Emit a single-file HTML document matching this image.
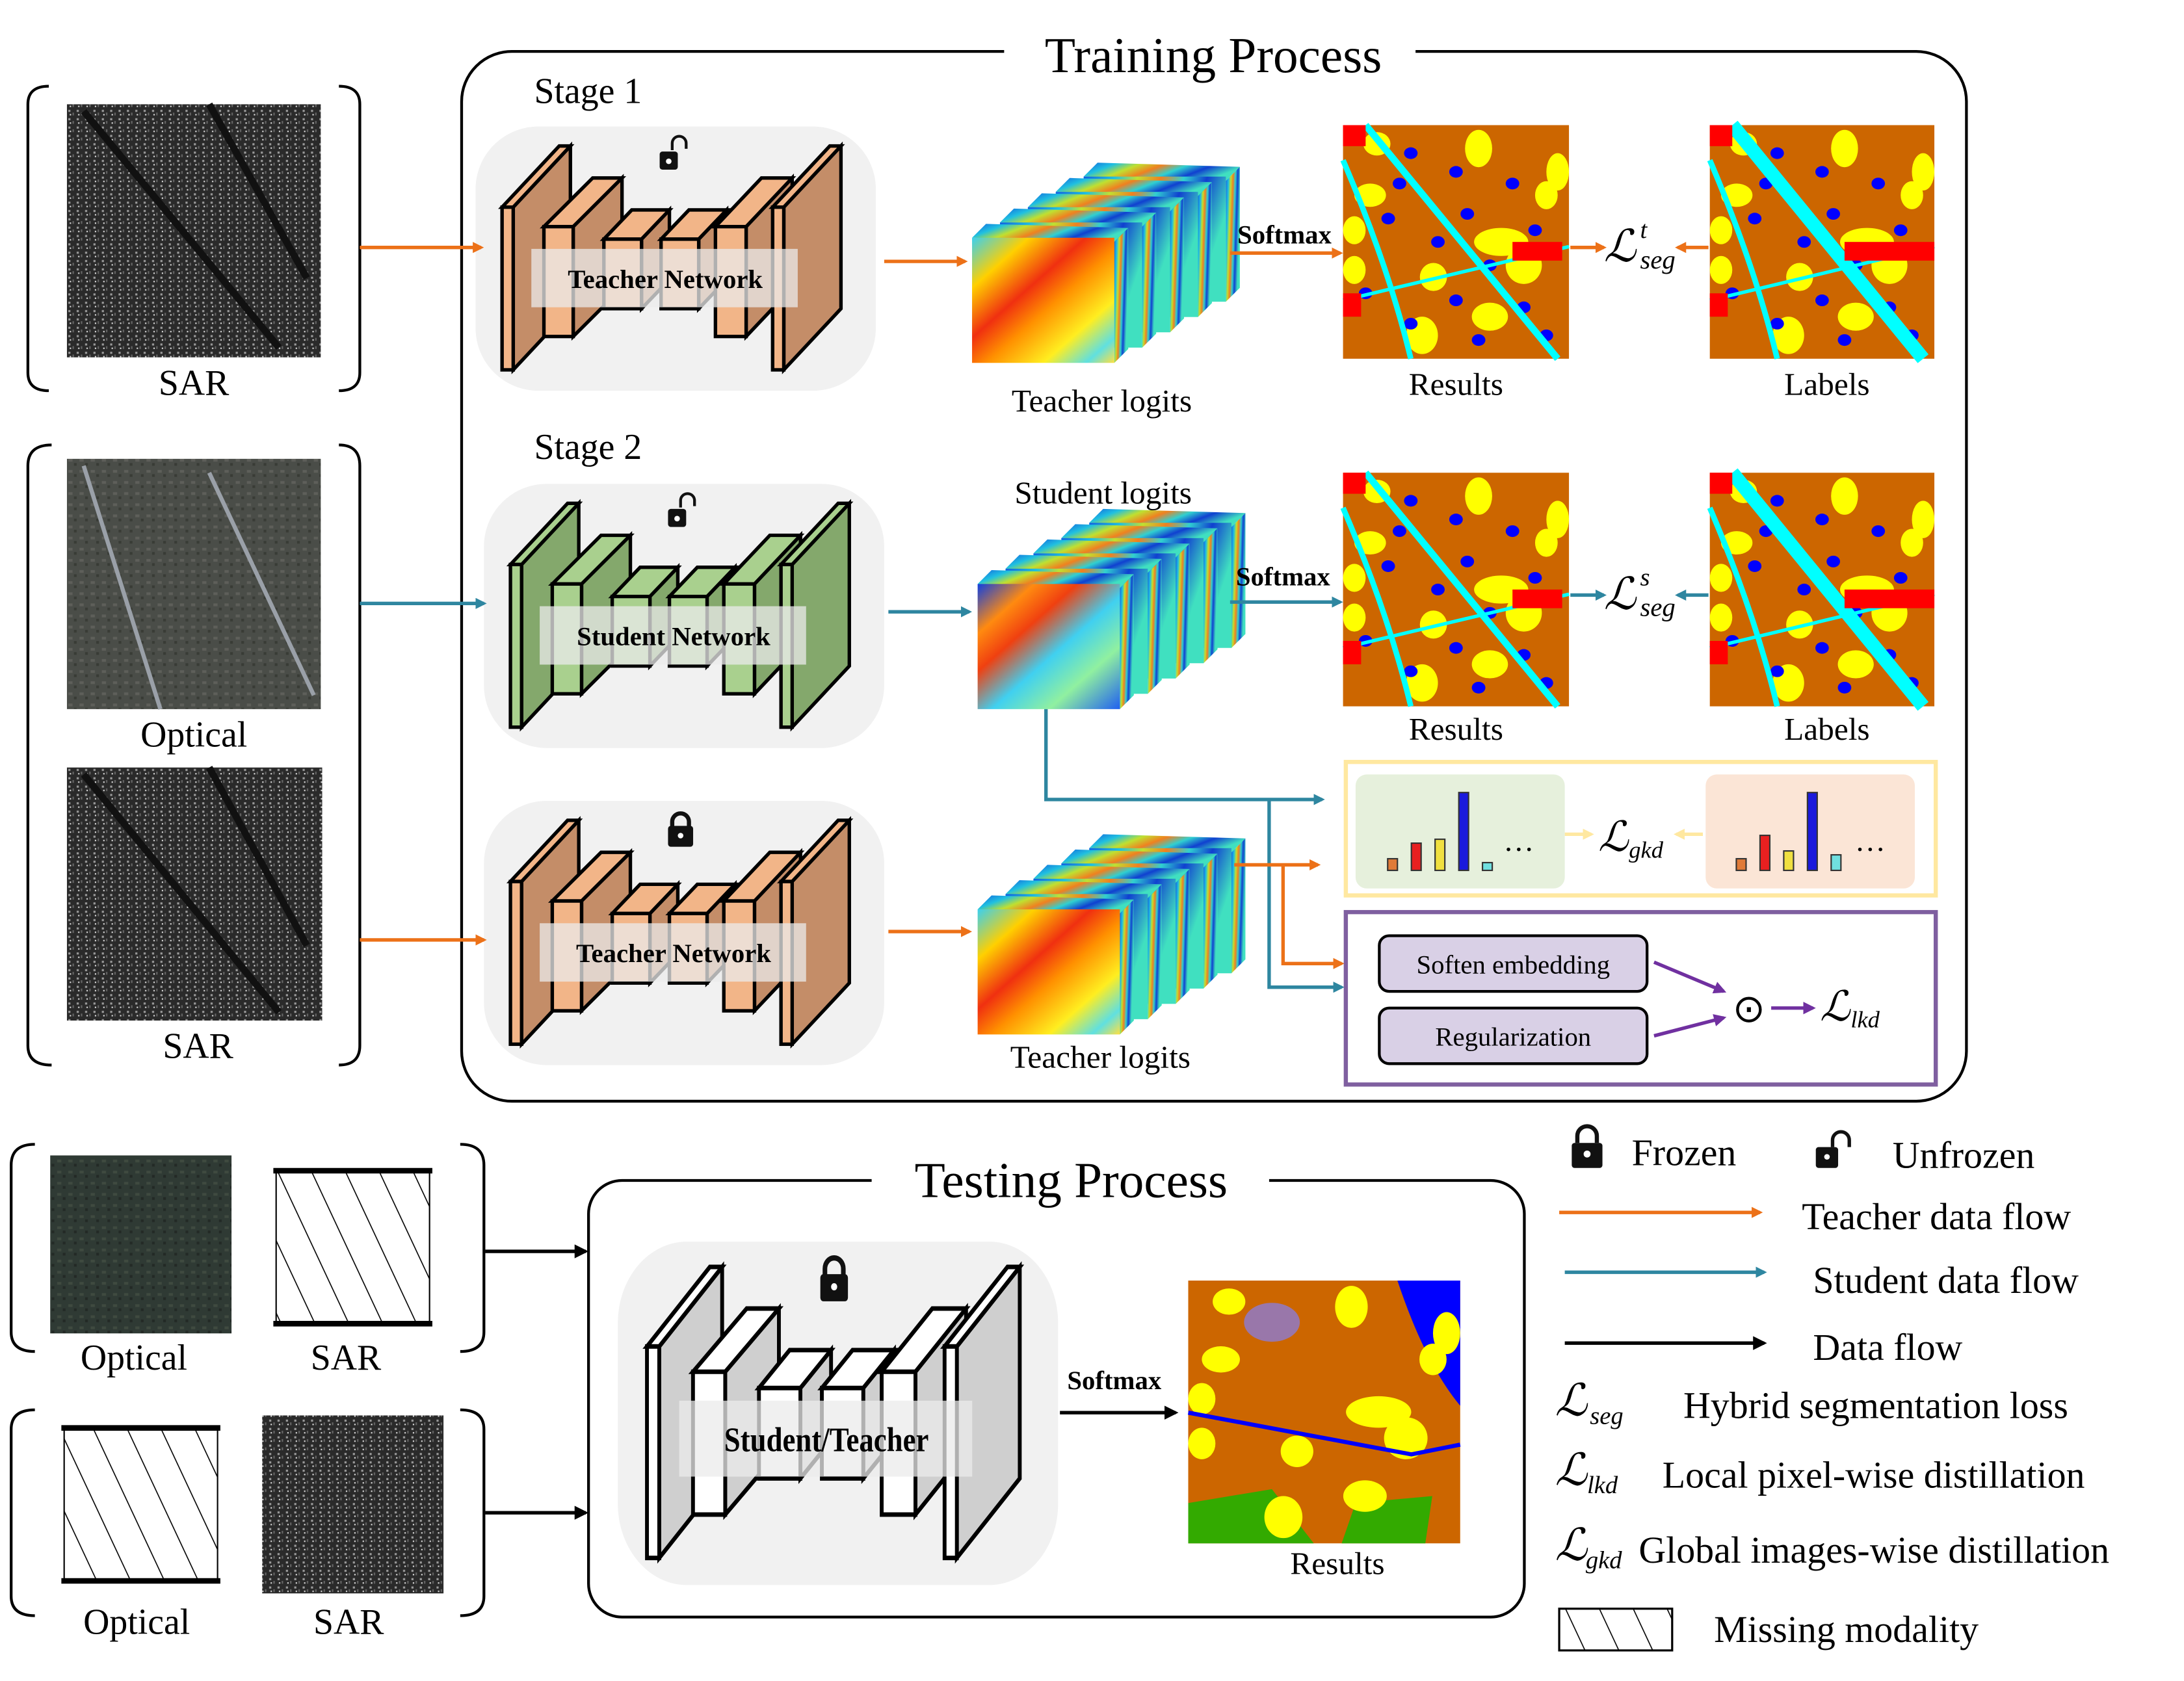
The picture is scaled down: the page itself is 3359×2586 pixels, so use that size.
<!DOCTYPE html>
<html><head><meta charset="utf-8"><style>
html,body{margin:0;padding:0;background:#fff;}
svg{display:block;}
text{font-family:"Liberation Serif",serif;fill:#000;}
</style></head>
<body>
<svg id="fig" xmlns="http://www.w3.org/2000/svg" width="3359" height="2586" viewBox="0 0 1566 1209" preserveAspectRatio="none">
<defs>
 <linearGradient id="gT" x1="0" y1="0" x2="1" y2="1">
  <stop offset="0" stop-color="#3ad0f0"/><stop offset="0.2" stop-color="#ffd000"/><stop offset="0.4" stop-color="#f03010"/><stop offset="0.55" stop-color="#ff9000"/><stop offset="0.75" stop-color="#ffee20"/><stop offset="0.9" stop-color="#60e0e0"/><stop offset="1" stop-color="#ffe040"/>
 </linearGradient>
 <linearGradient id="gS" x1="0" y1="0" x2="1" y2="1">
  <stop offset="0" stop-color="#1040e0"/><stop offset="0.2" stop-color="#ff8a10"/><stop offset="0.35" stop-color="#f04010"/><stop offset="0.55" stop-color="#40d0f0"/><stop offset="0.75" stop-color="#90f0a0"/><stop offset="1" stop-color="#2060f0"/>
 </linearGradient>
 <linearGradient id="gBack" x1="0" y1="0" x2="1" y2="0.3">
  <stop offset="0" stop-color="#1060e0"/><stop offset="0.2" stop-color="#20c0e0"/><stop offset="0.35" stop-color="#c0e030"/><stop offset="0.5" stop-color="#f08020"/><stop offset="0.65" stop-color="#30d0d0"/><stop offset="0.8" stop-color="#1040d0"/><stop offset="1" stop-color="#40e0c0"/>
 </linearGradient>
 <pattern id="sarTex" width="6" height="6" patternUnits="userSpaceOnUse">
  <rect width="6" height="6" fill="#2a2a2a"/><rect x="1" y="1" width="1.5" height="1.5" fill="#9a9a9a"/><rect x="4" y="3" width="1" height="2" fill="#666"/><rect x="2" y="4" width="1" height="1" fill="#ddd"/>
 </pattern>
 <pattern id="optTex" width="8" height="8" patternUnits="userSpaceOnUse">
  <rect width="8" height="8" fill="#4a4d48"/><rect x="1" y="2" width="3" height="2" fill="#5e5f5a"/><rect x="5" y="5" width="2" height="2" fill="#393c36"/>
 </pattern>
 <pattern id="optTex2" width="8" height="8" patternUnits="userSpaceOnUse">
  <rect width="8" height="8" fill="#2f3a34"/><rect x="1" y="2" width="3" height="2" fill="#3f4a40"/><rect x="5" y="5" width="2" height="2" fill="#232a26"/>
 </pattern>
 <marker id="aO" markerWidth="8" markerHeight="8" refX="6" refY="4" orient="auto" markerUnits="userSpaceOnUse"><path d="M0,0 L8,4 L0,8 Z" fill="#ec7118"/></marker>
 <marker id="aT" markerWidth="8" markerHeight="8" refX="6" refY="4" orient="auto" markerUnits="userSpaceOnUse"><path d="M0,0 L8,4 L0,8 Z" fill="#2e86a0"/></marker>
 <marker id="aK" markerWidth="10" markerHeight="10" refX="8" refY="5" orient="auto" markerUnits="userSpaceOnUse"><path d="M0,0 L10,5 L0,10 Z" fill="#000"/></marker>
 <marker id="aP" markerWidth="9" markerHeight="9" refX="7" refY="4.5" orient="auto" markerUnits="userSpaceOnUse"><path d="M0,0 L9,4.5 L0,9 Z" fill="#7030a0"/></marker>
 <marker id="aY" markerWidth="8" markerHeight="8" refX="6" refY="4" orient="auto" markerUnits="userSpaceOnUse"><path d="M0,0 L8,4 L0,8 Z" fill="#ffe8a0"/></marker>
 <pattern id="hatch" width="22" height="22" patternUnits="userSpaceOnUse" patternTransform="rotate(-25)">
  <rect width="22" height="22" fill="#fff"/><line x1="0" y1="0" x2="0" y2="22" stroke="#000" stroke-width="1.5"/>
 </pattern>
</defs>

<!-- Training frame -->
<rect x="331" y="37" width="1079" height="755" rx="36" fill="none" stroke="#000" stroke-width="2"/>
<rect x="720" y="25" width="295" height="30" fill="#fff"/>
<text x="870" y="52" font-size="36" text-anchor="middle">Training Process</text>
<text x="383" y="74" font-size="26">Stage 1</text>
<text x="383" y="330" font-size="26">Stage 2</text>

<!-- Testing frame -->
<rect x="422" y="849" width="671" height="314" rx="24" fill="none" stroke="#000" stroke-width="2"/>
<rect x="625" y="835" width="285" height="30" fill="#fff"/>
<text x="768" y="861" font-size="36" text-anchor="middle">Testing Process</text>

<g id="dyn"></g>

<!-- Input images -->
<rect x="48" y="75" width="182" height="182" fill="url(#sarTex)"/>
<path d="M60,80 L200,250 M150,75 L220,200" stroke="#111" stroke-width="5" fill="none"/>
<text x="139" y="284" font-size="26" text-anchor="middle">SAR</text>
<rect x="48" y="330" width="182" height="180" fill="url(#optTex)"/>
<path d="M60,335 L115,510 M150,340 L225,500" stroke="#9aa0a8" stroke-width="3" fill="none"/>
<text x="139" y="537" font-size="26" text-anchor="middle">Optical</text>
<rect x="48" y="552" width="183" height="182" fill="url(#sarTex)"/>
<path d="M60,557 L200,728 M150,552 L220,680" stroke="#111" stroke-width="5" fill="none"/>
<text x="142" y="761" font-size="26" text-anchor="middle">SAR</text>

<!-- brackets -->
<path d="M35,62 Q20,62 20,75 L20,268 Q20,281 35,281 M243,62 Q258,62 258,75 L258,268 Q258,281 243,281" fill="none" stroke="#000" stroke-width="2"/>
<path d="M37,320 Q20,320 20,335 L20,752 Q20,766 37,766 M243,320 Q258,320 258,335 L258,752 Q258,766 243,766" fill="none" stroke="#000" stroke-width="2"/>
<path d="M25,823 Q8,823 8,838 L8,958 Q8,972 25,972 M330,823 Q347,823 347,838 L347,958 Q347,972 330,972" fill="none" stroke="#000" stroke-width="2"/>
<path d="M25,1014 Q8,1014 8,1028 L8,1148 Q8,1162 25,1162 M330,1014 Q347,1014 347,1028 L347,1148 Q347,1162 330,1162" fill="none" stroke="#000" stroke-width="2"/>

<!-- test inputs -->
<rect x="36" y="831" width="130" height="128" fill="url(#optTex2)"/>
<rect x="198" y="842" width="110" height="110" fill="url(#hatch)" stroke="#000" stroke-width="1"/>
<line x1="196" y1="842" x2="310" y2="842" stroke="#000" stroke-width="4"/><line x1="196" y1="952" x2="310" y2="952" stroke="#000" stroke-width="4"/>
<text x="96" y="985" font-size="26" text-anchor="middle">Optical</text>
<text x="248" y="985" font-size="26" text-anchor="middle">SAR</text>
<rect x="46" y="1027" width="110" height="110" fill="url(#hatch)" stroke="#000" stroke-width="1"/>
<line x1="44" y1="1027" x2="158" y2="1027" stroke="#000" stroke-width="4"/><line x1="44" y1="1137" x2="158" y2="1137" stroke="#000" stroke-width="4"/>
<rect x="188" y="1018" width="130" height="128" fill="url(#sarTex)"/>
<text x="98" y="1175" font-size="26" text-anchor="middle">Optical</text>
<text x="250" y="1175" font-size="26" text-anchor="middle">SAR</text>

<!-- arrows -->
<g fill="none" stroke-width="2.5">
<line x1="258" y1="178" x2="345" y2="178" stroke="#ec7118" marker-end="url(#aO)"/>
<line x1="258" y1="434" x2="347" y2="434" stroke="#2e86a0" marker-end="url(#aT)"/>
<line x1="258" y1="676" x2="347" y2="676" stroke="#ec7118" marker-end="url(#aO)"/>
<line x1="634" y1="188" x2="692" y2="188" stroke="#ec7118" marker-end="url(#aO)"/>
<line x1="637" y1="440" x2="695" y2="440" stroke="#2e86a0" marker-end="url(#aT)"/>
<line x1="637" y1="670" x2="695" y2="670" stroke="#ec7118" marker-end="url(#aO)"/>
<line x1="882" y1="182" x2="961" y2="182" stroke="#ec7118" marker-end="url(#aO)"/>
<line x1="882" y1="433" x2="961" y2="433" stroke="#2e86a0" marker-end="url(#aT)"/>
<line x1="1126" y1="178" x2="1150" y2="178" stroke="#ec7118" marker-end="url(#aO)"/>
<line x1="1225" y1="178" x2="1203" y2="178" stroke="#ec7118" marker-end="url(#aO)"/>
<line x1="1126" y1="428" x2="1150" y2="428" stroke="#2e86a0" marker-end="url(#aT)"/>
<line x1="1225" y1="428" x2="1203" y2="428" stroke="#2e86a0" marker-end="url(#aT)"/>
<path d="M750,510 L750,575 L948,575" stroke="#2e86a0" marker-end="url(#aT)"/>
<path d="M910,575 L910,710 L962,710" stroke="#2e86a0" marker-end="url(#aT)"/>
<path d="M885,622 L945,622" stroke="#ec7118" marker-end="url(#aO)"/>
<path d="M920,622 L920,693 L962,693" stroke="#ec7118" marker-end="url(#aO)"/>
<line x1="1122" y1="600" x2="1141" y2="600" stroke="#ffe8a0" marker-end="url(#aY)"/>
<line x1="1221" y1="600" x2="1202" y2="600" stroke="#ffe8a0" marker-end="url(#aY)"/>
<line x1="1186" y1="692" x2="1236" y2="713" stroke="#7030a0" marker-end="url(#aP)"/>
<line x1="1186" y1="745" x2="1236" y2="732" stroke="#7030a0" marker-end="url(#aP)"/>
<line x1="1270" y1="725" x2="1300" y2="725" stroke="#7030a0" marker-end="url(#aP)"/>
<line x1="348" y1="900" x2="420" y2="900" stroke="#000" marker-end="url(#aK)"/>
<line x1="348" y1="1088" x2="420" y2="1088" stroke="#000" marker-end="url(#aK)"/>
<line x1="760" y1="1016" x2="843" y2="1016" stroke="#000" marker-end="url(#aK)"/>
</g>

<text x="921" y="175" font-size="19" font-weight="bold" text-anchor="middle">Softmax</text>
<text x="920" y="421" font-size="19" font-weight="bold" text-anchor="middle">Softmax</text>
<text x="799" y="999" font-size="19" font-weight="bold" text-anchor="middle">Softmax</text>

<text x="790" y="296" font-size="23" text-anchor="middle">Teacher logits</text>
<text x="791" y="362" font-size="23" text-anchor="middle">Student logits</text>
<text x="789" y="768" font-size="23" text-anchor="middle">Teacher logits</text>
<text x="1044" y="284" font-size="23" text-anchor="middle">Results</text>
<text x="1310" y="284" font-size="23" text-anchor="middle">Labels</text>
<text x="1044" y="532" font-size="23" text-anchor="middle">Results</text>
<text x="1310" y="532" font-size="23" text-anchor="middle">Labels</text>
<text x="959" y="1132" font-size="23" text-anchor="middle">Results</text>

<!-- loss symbols -->
<text x="1150" y="188" font-size="32" font-style="italic">ℒ</text>
<text x="1176" y="171" font-size="18" font-style="italic">t</text>
<text x="1176" y="193" font-size="19" font-style="italic">seg</text>
<text x="1150" y="438" font-size="32" font-style="italic">ℒ</text>
<text x="1176" y="421" font-size="18" font-style="italic">s</text>
<text x="1176" y="443" font-size="19" font-style="italic">seg</text>

<!-- gkd box -->
<rect x="965" y="548" width="423" height="96" fill="none" stroke="#ffe8a0" stroke-width="3"/>
<rect x="972" y="557" width="150" height="82" rx="8" fill="#e6f0dc"/>
<rect x="1223" y="557" width="150" height="82" rx="8" fill="#fbe5d6"/>
<text x="1078" y="612" font-size="22">…</text>
<text x="1330" y="612" font-size="22">…</text>
<text x="1146" y="612" font-size="30" font-style="italic">ℒ</text>
<text x="1168" y="617" font-size="17" font-style="italic">gkd</text>

<!-- lkd box -->
<rect x="965" y="656" width="423" height="124" fill="none" stroke="#7f5fa0" stroke-width="3"/>
<rect x="989" y="673" width="192" height="40" rx="7" fill="#d9d0e6" stroke="#000" stroke-width="2"/>
<text x="1085" y="700" font-size="19" text-anchor="middle">Soften embedding</text>
<rect x="989" y="725" width="192" height="40" rx="7" fill="#d9d0e6" stroke="#000" stroke-width="2"/>
<text x="1085" y="752" font-size="19" text-anchor="middle">Regularization</text>
<text x="1254" y="735" font-size="28" text-anchor="middle">⊙</text>
<text x="1305" y="734" font-size="30" font-style="italic">ℒ</text>
<text x="1327" y="739" font-size="17" font-style="italic">lkd</text>

<!-- legend -->
<g>
<g transform="translate(1127,812)"><path d="M4,10 L4,5 A7,7 0 0 1 18,5 L18,10" fill="none" stroke="#111" stroke-width="3"/><rect x="0" y="10" width="22" height="18" rx="2" fill="#111"/><circle cx="11" cy="18" r="2.5" fill="#fff"/></g>
<text x="1170" y="838" font-size="27">Frozen</text>
<g transform="translate(1302,817)"><path d="M12,8 L12,3 A6,6 0 0 1 24,3 L24,8" fill="none" stroke="#111" stroke-width="2.5"/><rect x="0" y="8" width="16" height="15" rx="2" fill="#111"/><circle cx="8" cy="15" r="2" fill="#fff"/></g>
<text x="1357" y="840" font-size="27">Unfrozen</text>
<line x1="1118" y1="872" x2="1262" y2="872" stroke="#ec7118" stroke-width="2.5" marker-end="url(#aO)"/>
<text x="1292" y="884" font-size="27">Teacher data flow</text>
<line x1="1122" y1="915" x2="1265" y2="915" stroke="#2e86a0" stroke-width="2.5" marker-end="url(#aT)"/>
<text x="1300" y="930" font-size="27">Student data flow</text>
<line x1="1122" y1="966" x2="1265" y2="966" stroke="#000" stroke-width="2.5" marker-end="url(#aK)"/>
<text x="1300" y="978" font-size="27">Data flow</text>
<text x="1115" y="1018" font-size="32" font-style="italic">ℒ</text><text x="1140" y="1024" font-size="18" font-style="italic">seg</text>
<text x="1207" y="1020" font-size="27">Hybrid segmentation loss</text>
<text x="1115" y="1068" font-size="32" font-style="italic">ℒ</text><text x="1138" y="1074" font-size="18" font-style="italic">lkd</text>
<text x="1192" y="1070" font-size="27">Local pixel-wise distillation</text>
<text x="1115" y="1122" font-size="32" font-style="italic">ℒ</text><text x="1137" y="1128" font-size="18" font-style="italic">gkd</text>
<text x="1175" y="1124" font-size="27">Global images-wise distillation</text>
<rect x="1118" y="1157" width="81" height="30" fill="url(#hatch)" stroke="#000" stroke-width="1.5"/>
<text x="1229" y="1181" font-size="27">Missing modality</text>
</g>
<g id="barLayer"></g>
</svg>

<script>
const NS='http://www.w3.org/2000/svg';
const dyn=document.getElementById('dyn');
const barLayer=document.getElementById('barLayer');
const studentBars=[0.15,0.35,0.4,1.0,0.1];
const teacherBars=[0.15,0.45,0.25,1.0,0.2];
const barColors=['#e07b39','#e82020','#f0e040','#1a1adc','#70e0e0'];

function mk(tag,attrs,parent){const e=document.createElementNS(NS,tag);for(const k in attrs)e.setAttribute(k,attrs[k]);(parent||dyn).appendChild(e);return e;}

function block(g,x,yf,w,h,dx,dy,cf,cs){
  mk('polygon',{points:`${x+w},${yf} ${x+w+dx},${yf-dy} ${x+w+dx},${yf-dy+h} ${x+w},${yf+h}`,fill:cs,stroke:'#000','stroke-width':2.5},g);
  mk('polygon',{points:`${x},${yf} ${x+dx},${yf-dy} ${x+w+dx},${yf-dy} ${x+w},${yf}`,fill:cf,stroke:'#000','stroke-width':2.5},g);
  mk('rect',{x:x,y:yf,width:w,height:h,fill:cf,stroke:'#000','stroke-width':2.5},g);
}
function lock(g,x,y,open){
  if(open) mk('path',{d:`M${x+9},${y+7} L${x+9},${y+2} A5,5 0 0 1 ${x+19},${y+2} L${x+19},${y+6}`,fill:'none',stroke:'#111','stroke-width':2},g);
  else mk('path',{d:`M${x+3},${y+9} L${x+3},${y+5} A6,6 0 0 1 ${x+15},${y+5} L${x+15},${y+9}`,fill:'none',stroke:'#111','stroke-width':3},g);
  mk('rect',{x:x,y:y+8,width:open?13:18,height:open?13:15,rx:2,fill:'#111'},g);
  mk('circle',{cx:x+(open?6.5:9),cy:y+15,r:2,fill:'#fff'},g);
}
function net(x0,y0,sx,sy,cf,cs,label,name,open){
  const g=mk('g',{transform:`translate(${x0},${y0}) scale(${sx},${sy})`});
  
  
  mk('rect',{x:0,y:0,width:287,height:190,rx:45,fill:'#f1f1f1'},g);
  block(g,19,58,8,117,41,44,cf,cs);
  block(g,49,72,21,79,35,35,cf,cs);
  block(g,92,81,27,50,20,21,cf,cs);
  block(g,133,81,27,50,20,21,cf,cs);
  block(g,172,72,22,79,33,35,cf,cs);
  block(g,213,58,8,117,41,44,cf,cs);
  lock(g,132,10,open);
  mk('rect',{x:40,y:88,width:191,height:42,fill:'rgba(235,235,235,0.75)'},g);
  const t=mk('text',{x:136,y:116,'font-size':19,'font-weight':'bold','text-anchor':'middle'},g);
  t.textContent=label;
}
net(341,91,1,1,'#f2b588','#c48d68','Teacher Network','teacher-network-stage1',true);
net(347,348,1,1,'#a9d08e','#84a86c','Student Network','student-network',true);
net(347,576,1,1,'#f2b588','#c48d68','Teacher Network','teacher-network-stage2',false);
net(443,893,1.1,1.3,'#ffffff','#cfcfcf','Student/Teacher','test-network',false);

function cube(x,y,grad,name){
  const g=mk('g',{});
  
  
  for(let i=4;i>=0;i--){
    const ox=x+i*20, oy=y-i*11;
    mk('polygon',{points:`${ox},${oy} ${ox+10},${oy-10} ${ox+112},${oy-7} ${ox+102},${oy+3}`,fill:'url(#gBack)'},g);
    mk('polygon',{points:`${ox+102},${oy+3} ${ox+112},${oy-7} ${ox+112},${oy+80} ${ox+102},${oy+90}`,fill:'url(#gBack)'},g);
    mk('rect',{x:ox,y:oy,width:102,height:90,fill:i===0?grad:'url(#gBack)'},g);
  }
}
cube(697,171,'url(#gT)','teacher-logits-cube-1');
cube(701,420,'url(#gS)','student-logits-cube');
cube(701,654,'url(#gT)','teacher-logits-cube-2');

const yellowBlobs=[[0.15,0.08,0.06,0.05],[0.6,0.1,0.06,0.08],[0.95,0.2,0.05,0.08],[0.12,0.3,0.07,0.05],[0.05,0.45,0.05,0.06],[0.9,0.3,0.05,0.06],[0.7,0.5,0.12,0.06],[0.8,0.6,0.08,0.08],[0.4,0.65,0.06,0.06],[0.65,0.82,0.08,0.06],[0.35,0.9,0.07,0.08],[0.05,0.62,0.05,0.06]];
const blueBlobs=[[0.3,0.12],[0.5,0.2],[0.75,0.25],[0.2,0.4],[0.55,0.38],[0.85,0.45],[0.42,0.5],[0.1,0.72],[0.5,0.75],[0.3,0.85],[0.8,0.78],[0.65,0.6],[0.25,0.25],[0.9,0.9],[0.6,0.92]];
function segmap(x,y,w,h,name,labels){
  const g=mk('g',{});
  
  
  mk('rect',{x:x,y:y,width:w,height:h,fill:'#cc6600'},g);
  yellowBlobs.forEach(b=>mk('ellipse',{cx:x+b[0]*w,cy:y+b[1]*h,rx:b[2]*w,ry:b[3]*h,fill:'#ffff00'},g));
  blueBlobs.forEach(b=>mk('ellipse',{cx:x+b[0]*w,cy:y+b[1]*h,rx:0.03*w,ry:0.025*h,fill:'#0000ff'},g));
  mk('path',{d:`M${x+0.1*w},${y} L${x+0.95*w},${y+h}`,stroke:'#00ffff','stroke-width':labels?10:5,fill:'none'},g);
  mk('path',{d:`M${x},${y+0.15*h} Q${x+0.2*w},${y+0.6*h} ${x+0.3*w},${y+h}`,stroke:'#00ffff','stroke-width':4,fill:'none'},g);
  mk('path',{d:`M${x},${y+0.75*h} L${x+w},${y+0.52*h}`,stroke:'#00ffff','stroke-width':2.5,fill:'none'},g);
  mk('rect',{x:x+(labels?0.6:0.75)*w,y:y+0.5*h,width:(labels?0.4:0.22)*w,height:0.08*h,fill:'#ff0000'},g);
  mk('rect',{x:x,y:y,width:0.1*w,height:0.09*h,fill:'#ff0000'},g);
  mk('rect',{x:x,y:y+0.72*h,width:0.08*w,height:0.1*h,fill:'#ff0000'},g);
}
segmap(963,90,162,168,'teacher-result-map',false);
segmap(1226,90,161,168,'label-map-1',true);
segmap(963,340,162,168,'student-result-map',false);
segmap(1226,340,161,168,'label-map-2',true);

(function(){
  const x=852,y=921,w=195,h=189;
  const g=mk('g',{});
  
  
  mk('rect',{x:x,y:y,width:w,height:h,fill:'#cc6600'},g);
  mk('path',{d:`M${x+150},${y} L${x+w},${y} L${x+w},${y+90} Q${x+170},${y+60} ${x+150},${y}`,fill:'#0000ff'},g);
  mk('path',{d:`M${x},${y+160} L${x+60},${y+150} L${x+90},${y+h} L${x},${y+h} Z`,fill:'#33aa00'},g);
  mk('path',{d:`M${x+120},${y+160} L${x+175},${y+155} L${x+170},${y+h} L${x+110},${y+h} Z`,fill:'#33aa00'},g);
  yellowBlobs.forEach(b=>mk('ellipse',{cx:x+b[0]*w,cy:y+b[1]*h,rx:b[2]*w,ry:b[3]*h,fill:'#ffff00'},g));
  mk('ellipse',{cx:x+60,cy:y+30,rx:20,ry:14,fill:'#9977aa'},g);
  mk('path',{d:`M${x},${y+95} L${x+160},${y+125} L${x+w},${y+118}`,stroke:'#0000ff','stroke-width':3,fill:'none'},g);
})();

function bars(x0,base,vals,name){
  vals.forEach((v,i)=>{
    const r=mk('rect',{x:x0+i*17,y:base-v*56,width:7,height:v*56,fill:barColors[i],stroke:'#333','stroke-width':1},barLayer);
    
    
  });
}
bars(995,626,studentBars,'student-dist');
bars(1245,626,teacherBars,'teacher-dist');
</script>
</body></html>
